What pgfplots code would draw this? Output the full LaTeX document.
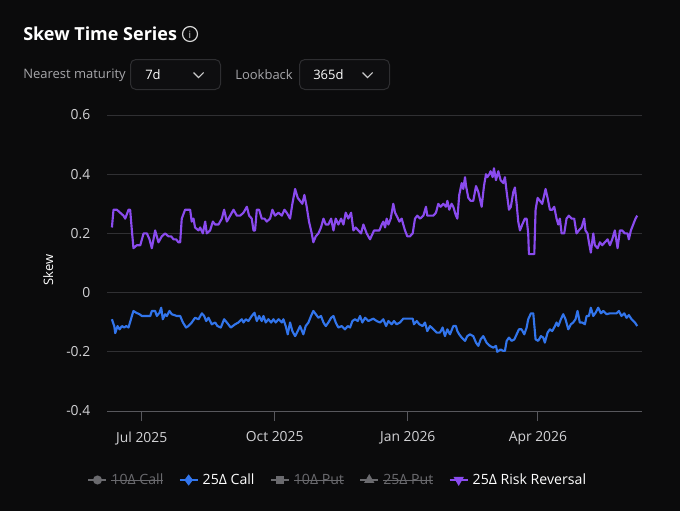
\documentclass[border=0pt]{standalone}
\usepackage{fontspec}
\setmainfont{Open Sans}
\usepackage{pgfplots}
\usepackage{pgfplotstable}
\pgfplotsset{compat=1.18}
\definecolor{bg}{HTML}{0B0B0C}
\definecolor{gridc}{HTML}{303033}
\definecolor{axisc}{HTML}{58585D}
\definecolor{ticktext}{HTML}{D2D2D5}
\definecolor{mutedtext}{HTML}{A6A6AA}
\definecolor{rrpurple}{HTML}{8A4BEF}
\definecolor{callblue}{HTML}{3275EC}
\definecolor{leggray}{HTML}{6A6A6E}
\definecolor{boxborder}{HTML}{2E2E31}
\definecolor{boxfill}{HTML}{0E0E10}
\newcommand{\strike}[1]{\leavevmode\setbox0\hbox{#1}\rlap{\rule[0.5ex]{\wd0}{0.6pt}}\box0}

\pgfplotstableread{
day rr
-20.6 0.22
-19.5 0.28
-17.2 0.28
-14.9 0.27
-12.6 0.26
-11.4 0.25
-9.1 0.28
-8.0 0.28
-6.8 0.21
-5.7 0.15
-3.4 0.16
-1.0 0.16
1.3 0.20
3.6 0.20
5.4 0.18
7.0 0.15
9.3 0.21
11.6 0.17
13.9 0.19
16.2 0.20
18.5 0.19
20.4 0.19
22.0 0.18
23.8 0.18
25.4 0.17
26.6 0.17
27.7 0.25
30.0 0.28
32.3 0.28
33.5 0.28
34.6 0.24
35.8 0.25
36.9 0.22
39.3 0.21
40.4 0.22
42.3 0.20
43.9 0.24
45.0 0.20
47.3 0.21
49.2 0.24
50.8 0.23
53.1 0.23
55.4 0.25
57.0 0.28
58.9 0.24
61.2 0.26
63.5 0.28
65.8 0.26
68.1 0.26
70.4 0.27
72.7 0.29
74.3 0.26
76.1 0.25
77.3 0.21
78.4 0.21
79.6 0.28
81.2 0.28
83.0 0.25
84.9 0.25
86.5 0.24
88.8 0.25
90.4 0.28
92.2 0.26
94.6 0.27
96.9 0.26
98.7 0.28
100.3 0.27
102.6 0.25
104.2 0.30
106.1 0.35
107.9 0.32
109.5 0.31
111.1 0.30
112.5 0.33
114.1 0.29
115.7 0.24
117.6 0.20
118.7 0.17
120.4 0.19
122.2 0.20
124.0 0.22
125.7 0.25
127.3 0.23
129.1 0.23
131.0 0.25
132.6 0.21
134.2 0.25
136.0 0.23
137.9 0.25
139.5 0.23
141.1 0.27
142.9 0.25
144.8 0.27
146.4 0.21
148.0 0.22
149.8 0.21
151.7 0.20
153.3 0.23
155.6 0.20
157.9 0.18
160.7 0.21
162.5 0.21
164.4 0.21
166.0 0.23
167.1 0.24
168.3 0.22
169.4 0.25
170.6 0.23
172.2 0.25
174.0 0.30
175.2 0.27
176.3 0.26
178.2 0.24
179.8 0.25
180.9 0.23
182.1 0.21
183.7 0.19
185.5 0.19
187.4 0.20
189.0 0.25
190.6 0.26
192.5 0.25
194.8 0.26
196.6 0.29
197.5 0.26
199.4 0.26
201.7 0.26
203.5 0.27
205.1 0.30
206.7 0.29
208.6 0.30
210.4 0.29
211.4 0.31
212.7 0.28
214.3 0.30
215.5 0.29
217.3 0.26
218.3 0.25
219.6 0.33
221.3 0.37
222.4 0.35
223.6 0.39
224.3 0.36
225.9 0.32
227.5 0.31
229.3 0.31
231.2 0.36
232.8 0.34
235.1 0.29
236.7 0.36
238.1 0.40
239.0 0.39
240.4 0.40
241.3 0.41
242.7 0.39
243.6 0.42
245.0 0.38
246.6 0.41
248.2 0.38
250.1 0.37
251.2 0.39
252.4 0.34
254.0 0.28
255.3 0.29
257.0 0.34
258.1 0.355
259.3 0.30
260.4 0.24
261.6 0.21
263.2 0.23
265.0 0.25
266.2 0.25
267.3 0.20
267.8 0.13
269.6 0.13
271.5 0.13
272.4 0.28
273.8 0.32
275.4 0.31
277.0 0.30
278.4 0.33
279.3 0.35
280.7 0.32
282.3 0.28
283.9 0.28
285.3 0.29
286.9 0.25
288.1 0.23
289.2 0.25
290.4 0.20
292.2 0.20
293.8 0.25
295.4 0.26
297.3 0.25
299.1 0.25
300.7 0.20
302.3 0.21
304.2 0.22
306.0 0.25
306.9 0.21
308.3 0.20
309.3 0.17
310.6 0.135
312.3 0.20
313.4 0.16
315.3 0.15
316.9 0.17
318.5 0.16
320.3 0.17
322.2 0.18
323.8 0.16
325.4 0.18
327.2 0.21
329.1 0.15
330.7 0.21
332.3 0.21
334.1 0.20
336.0 0.20
336.9 0.18
338.3 0.21
339.9 0.23
341.5 0.25
342.7 0.26
}\rrtable

\pgfplotstableread{
day call
-20.6 -0.090
-19.0 -0.113
-18.3 -0.137
-16.7 -0.113
-15.3 -0.124
-13.7 -0.113
-12.1 -0.118
-10.7 -0.113
-9.1 -0.118
-6.8 -0.079
-5.7 -0.062
-3.8 -0.068
-1.5 -0.073
0.1 -0.079
3.6 -0.079
5.9 -0.079
7.0 -0.062
9.3 -0.062
10.5 -0.079
12.3 -0.068
13.5 -0.051
14.6 -0.090
16.2 -0.073
17.4 -0.079
19.2 -0.062
20.8 -0.073
22.5 -0.076
24.3 -0.079
26.6 -0.079
28.5 -0.101
30.7 -0.118
32.3 -0.113
34.6 -0.101
36.9 -0.085
39.3 -0.090
41.6 -0.070
43.2 -0.079
44.6 -0.096
46.2 -0.085
48.5 -0.107
50.8 -0.101
52.4 -0.113
54.7 -0.118
57.0 -0.090
58.9 -0.101
61.6 -0.118
64.6 -0.107
66.9 -0.101
69.2 -0.090
70.4 -0.101
72.0 -0.090
73.8 -0.096
76.1 -0.079
78.0 -0.068
79.6 -0.096
81.2 -0.079
83.0 -0.096
84.2 -0.079
85.8 -0.101
87.6 -0.090
89.5 -0.101
91.1 -0.090
92.7 -0.101
94.6 -0.090
96.9 -0.101
98.0 -0.090
99.6 -0.113
101.0 -0.141
102.6 -0.101
104.2 -0.130
106.1 -0.147
107.9 -0.130
109.5 -0.113
111.8 -0.141
113.4 -0.113
115.3 -0.101
117.1 -0.079
118.7 -0.062
120.4 -0.073
122.2 -0.085
124.0 -0.079
125.7 -0.101
127.3 -0.113
129.1 -0.101
131.0 -0.085
132.6 -0.079
134.2 -0.101
136.0 -0.118
138.3 -0.113
140.6 -0.124
142.5 -0.113
144.1 -0.118
145.7 -0.096
147.5 -0.090
149.4 -0.096
151.0 -0.079
152.6 -0.101
154.5 -0.085
156.8 -0.096
160.2 -0.088
162.5 -0.096
164.8 -0.101
167.1 -0.090
169.0 -0.113
170.6 -0.096
172.9 -0.107
174.5 -0.096
176.3 -0.107
178.6 -0.101
180.9 -0.088
184.4 -0.088
187.4 -0.088
188.3 -0.107
190.2 -0.096
192.0 -0.107
194.3 -0.113
195.9 -0.101
197.5 -0.130
199.4 -0.113
201.7 -0.124
204.0 -0.135
206.3 -0.135
208.1 -0.118
209.7 -0.147
211.4 -0.124
213.2 -0.141
215.5 -0.113
217.3 -0.113
218.3 -0.130
219.6 -0.141
221.3 -0.152
223.6 -0.163
225.2 -0.147
227.0 -0.141
229.3 -0.147
231.2 -0.169
232.8 -0.180
234.4 -0.158
236.2 -0.147
238.5 -0.169
240.8 -0.180
243.1 -0.186
245.0 -0.180
245.9 -0.200
248.2 -0.192
250.1 -0.197
251.2 -0.197
252.4 -0.163
254.0 -0.152
255.8 -0.163
257.7 -0.158
259.3 -0.141
260.9 -0.124
262.7 -0.124
264.6 -0.141
266.2 -0.118
267.3 -0.090
269.2 -0.070
270.8 -0.070
272.4 -0.158
274.2 -0.163
276.1 -0.147
277.7 -0.152
278.8 -0.169
280.7 -0.135
282.3 -0.124
283.9 -0.130
285.8 -0.113
286.9 -0.101
288.1 -0.113
289.9 -0.090
291.5 -0.073
293.1 -0.090
295.0 -0.124
296.8 -0.107
298.4 -0.101
300.0 -0.090
301.4 -0.062
303.0 -0.101
304.7 -0.101
306.5 -0.107
307.7 -0.079
309.3 -0.079
310.6 -0.051
312.3 -0.079
313.9 -0.068
315.7 -0.051
317.6 -0.070
319.2 -0.062
321.5 -0.073
323.8 -0.070
326.1 -0.070
328.4 -0.070
330.0 -0.062
331.8 -0.079
333.7 -0.070
335.3 -0.085
336.9 -0.076
338.8 -0.090
341.1 -0.101
342.7 -0.113
}\calltable

\newcommand{\uifont}{\fontsize{9.75}{12}\selectfont}
\newcommand{\tickfont}{\fontsize{10.4}{12}\selectfont}

\begin{document}
\begin{tikzpicture}
\begin{scope}[x=0.75pt,y=-0.75pt]
\fill[bg] (0,0) rectangle (680,511);
% title
\node[anchor=west, inner sep=0, text=white, font=\bfseries\fontsize{13.5}{16}\selectfont] at (23,34) {Skew Time Series};
\draw[white!85!black, line width=0.9pt] (190,34) circle (5.6pt);
\node[inner sep=0, text=white!85!black, font=\fontsize{7.5}{9}\selectfont] at (190,34.5) {i};
% controls
\node[anchor=west, inner sep=0, text=mutedtext, font=\uifont] at (23,75) {Nearest maturity};
\draw[boxborder, fill=boxfill, rounded corners=4pt, line width=0.75pt] (130.5,59.5) rectangle (220.5,89.5);
\node[anchor=west, inner sep=0, text=white, font=\uifont] at (145,75) {7d};
\draw[white!80!black, line width=0.8pt] (193.5,72.5) -- (198.5,77.5) -- (203.5,72.5);
\node[anchor=west, inner sep=0, text=mutedtext, font=\uifont] at (235,75) {Lookback};
\draw[boxborder, fill=boxfill, rounded corners=4pt, line width=0.75pt] (299.5,59.5) rectangle (389.5,89.5);
\node[anchor=west, inner sep=0, text=white, font=\uifont] at (313,75) {365d};
\draw[white!80!black, line width=0.8pt] (362.5,72.5) -- (367.5,77.5) -- (372.5,72.5);
\end{scope}

\begin{axis}[
  at={(80.25pt,-308.25pt)}, anchor=south west,
  scale only axis, width=401.25pt, height=222pt,
  xmin=-24, xmax=346, ymin=-0.4, ymax=0.6,
  axis line style={draw=none},
  ymajorgrids, grid style={gridc, line width=0.75pt},
  ytick={-0.4,-0.2,0,0.2,0.4,0.6},
  yticklabels={-0.4,-0.2,0,0.2,0.4,0.6},
  ytick style={draw=none},
  yticklabel style={xshift=-9pt},
  xtick={0,92,184,274},
  xticklabels={Jul 2025,Oct 2025,Jan 2026,Apr 2026},
  xtick pos=bottom, xtick align=outside, major tick length=7.5pt,
  xtick style={axisc, line width=0.75pt},
  xticklabel style={yshift=-4.5pt},
  tick label style={font=\tickfont, text=ticktext},
  ylabel={Skew},
  ylabel style={at={(axis description cs:-0.110,0.476)}, anchor=center, text=white, font=\uifont},
  legend columns=5,
  legend style={at={(axis description cs:0.432,-0.233)}, anchor=center, draw=none, fill=none,
    text=white, font=\fontsize{10.6}{12}\selectfont,
    /tikz/every even column/.append style={column sep=9.5pt},
    /tikz/every odd column/.append style={column sep=1pt}},
  legend image code/.code={\draw[mark repeat=2,mark phase=2,#1] plot coordinates {(0pt,0pt) (6.75pt,0pt) (13.5pt,0pt)};},
  clip=false,
]
\draw[axisc, line width=0.75pt] (rel axis cs:0,0) -- (rel axis cs:1,0);
\addplot[rrpurple, line width=1.6pt, line join=round, mark=none, forget plot] table[x=day,y=rr] {\rrtable};
\addplot[callblue, line width=1.6pt, line join=round, mark=none, forget plot] table[x=day,y=call] {\calltable};
\addlegendimage{leggray, line width=1.5pt, mark=*, mark size=2.6pt}
\addlegendentry{\textcolor{leggray}{\strike{10Δ Call}}}
\addlegendimage{callblue, line width=1.5pt, mark=diamond*, mark size=3pt}
\addlegendentry{25Δ Call}
\addlegendimage{leggray, line width=1.5pt, mark=square*, mark size=2.4pt}
\addlegendentry{\textcolor{leggray}{\strike{10Δ Put}}}
\addlegendimage{leggray, line width=1.5pt, mark=triangle*, mark size=3pt}
\addlegendentry{\textcolor{leggray}{\strike{25Δ Put}}}
\addlegendimage{rrpurple, line width=1.5pt, mark=triangle*, mark size=3pt, mark options={rotate=180}}
\addlegendentry{25Δ Risk Reversal}
\end{axis}
\end{tikzpicture}
\end{document}
